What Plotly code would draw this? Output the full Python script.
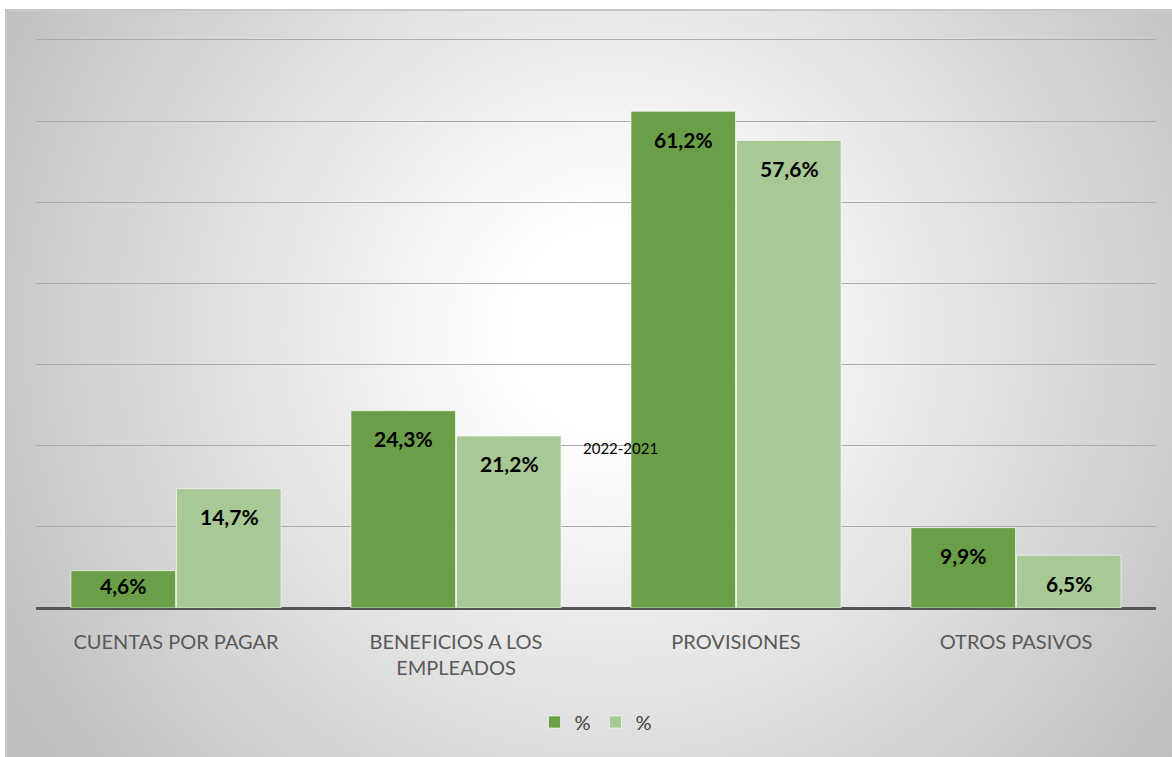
import base64
import plotly.graph_objects as go

categories = ["CUENTAS POR PAGAR", "BENEFICIOS A LOS<br>EMPLEADOS", "PROVISIONES", "OTROS PASIVOS"]
series_names = ["%", "%"]
values_2022 = [4.6, 24.3, 61.2, 9.9]
values_2021 = [14.7, 21.2, 57.6, 6.5]
label_2022 = ["4,6%", "24,3%", "61,2%", "9,9%"]
label_2021 = ["14,7%", "21,2%", "57,6%", "6,5%"]
center_label = "2022-2021"

W, H = 1172, 757
L, R, T, B = 36, 16, 35, 149
ymax = 70.6
plot_h = H - T - B
ppu = plot_h / ymax

dark = "#6a9f48"
light = "#a8c896"

svg = f'''<svg xmlns="http://www.w3.org/2000/svg" width="1200" height="760" viewBox="0 0 1200 760">
<defs><radialGradient id="g" gradientUnits="userSpaceOnUse" cx="610" cy="320" r="720">
<stop offset="0" stop-color="#ffffff"/><stop offset="0.15" stop-color="#ffffff"/>
<stop offset="1" stop-color="#bdbdbd"/></radialGradient></defs>
<rect x="0" y="0" width="1200" height="760" fill="url(#g)"/></svg>'''
src = "data:image/svg+xml;base64," + base64.b64encode(svg.encode()).decode()

fig = go.Figure()
for name, vals, col in [(series_names[0], values_2022, dark), (series_names[1], values_2021, light)]:
    fig.add_trace(go.Bar(x=categories, y=vals, name=name, marker=dict(color=col, line=dict(color="rgba(255,255,255,0.6)", width=1))))

annotations = []
for vals, labels, xs in [(values_2022, label_2022, -53), (values_2021, label_2021, 53)]:
    for c, v, t in zip(categories, vals, labels):
        shift = -min(28, v * ppu - 23)
        annotations.append(dict(x=c, y=v, xref="x", yref="y", text=f"<b>{t}</b>", showarrow=False,
                                xshift=xs, yshift=shift, yanchor="middle",
                                font=dict(family="Lato, Open Sans, sans-serif", size=21, color="#000000")))
annotations.append(dict(x=(620 - L) / (W - L - R), y=(H - B - 448) / plot_h, xref="paper", yref="paper",
                        xanchor="center", yanchor="middle",
                        text=center_label, showarrow=False, font=dict(family="Lato, sans-serif", size=15, color="#000000")))

fx0 = (6 - L) / (W - L - R)
fx1 = (1200 - L) / (W - L - R)
fy1 = (H - B - 10) / plot_h
fy0 = (H - B - 770) / plot_h

fig.update_layout(
    width=W, height=H,
    margin=dict(l=L, r=R, t=T, b=B),
    paper_bgcolor="#ffffff", plot_bgcolor="rgba(0,0,0,0)",
    bargap=0.246, bargroupgap=0.01, barmode="group",
    showlegend=True,
    legend=dict(orientation="h", x=0.5, xanchor="center", y=(H - B - 722) / plot_h, yanchor="middle",
                font=dict(family="Lato, sans-serif", size=20, color="#404040"), bgcolor="rgba(0,0,0,0)",
                itemwidth=30, tracegroupgap=0),
    annotations=annotations,
    images=[dict(source=src, xref="paper", yref="paper", x=fx0, y=fy1, sizex=fx1 - fx0, sizey=fy1 - fy0,
                 sizing="stretch", layer="below", xanchor="left", yanchor="top")],
    shapes=[dict(type="rect", xref="paper", yref="paper", x0=fx0, x1=fx1, y0=fy0, y1=fy1,
                 line=dict(color="#c8c8c8", width=2), fillcolor="rgba(0,0,0,0)", layer="below")],
    xaxis=dict(showgrid=False, tickfont=dict(family="Lato, sans-serif", size=20, color="#595959"),
               ticklabelstandoff=20, showline=False),
    yaxis=dict(range=[0, ymax], dtick=10, showticklabels=False, showgrid=True, gridcolor="#ababab", gridwidth=1,
               zeroline=True, zerolinecolor="#555555", zerolinewidth=3, showline=False),
)

fig.write_html("out.html", config={"displayModeBar": False},
               post_script="document.body.style.margin='0';document.body.style.overflow='hidden';")
